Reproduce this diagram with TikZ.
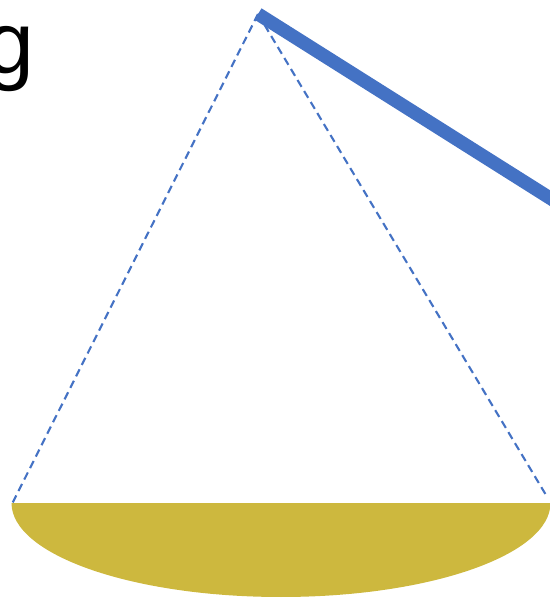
\documentclass[tikz,border=0pt]{standalone}
\usepackage{fontspec}
\setmainfont{Liberation Sans}
\usepackage{xcolor}
\usepackage{tikz}
\usetikzlibrary{positioning,calc}

\definecolor{beamblue}{RGB}{68,114,196}
\definecolor{bowlgold}{RGB}{205,184,62}

\tikzset{
    guide/.style={draw=beamblue, line width=1.2pt, dash pattern=on 4.5pt off 2.8pt},
    beam/.style={draw=beamblue, line width=7.6pt}
}

\begin{document}
\begin{tikzpicture}[x=0.02cm, y=0.02cm]
    \useasboundingbox (0,0) rectangle (550,600);
    \clip (0,0) rectangle (550,600);

    \coordinate (apex) at (258,586);
    \coordinate (rimL) at (12,96);
    \coordinate (rimR) at (546,105);
    \coordinate (beamEnd) at (580,383);

    \node[anchor=base east, inner sep=0pt, font=\fontsize{50}{53}\selectfont] (word) at (35,527) {g};

    % cone sides
    \draw[guide] (apex) -- (rimL);
    \draw[guide] (apex) -- (rimR);

    % bowl
    \fill[bowlgold] (11.5,97) arc[start angle=180, end angle=360, x radius=269.5, y radius=94] -- cycle;

    \draw[beam] (apex) -- (beamEnd);
\end{tikzpicture}
\end{document}
